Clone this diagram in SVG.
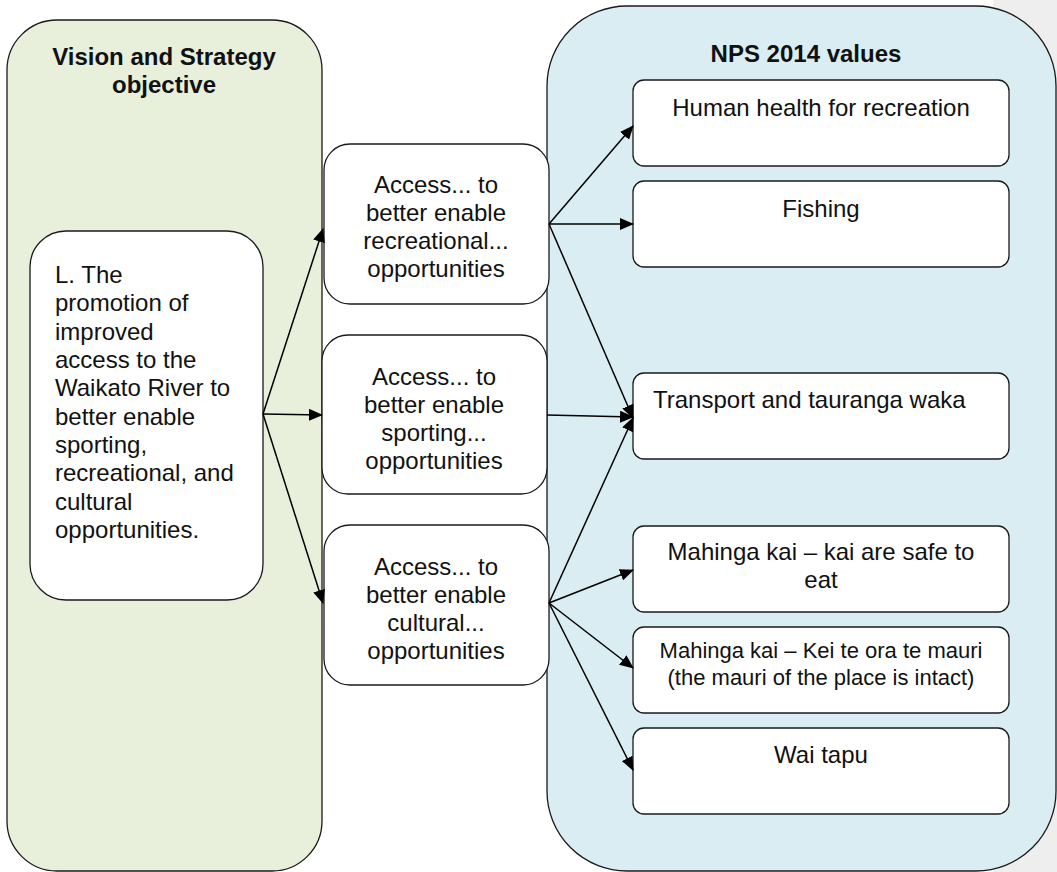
<svg xmlns="http://www.w3.org/2000/svg" width="1057" height="872" viewBox="0 0 1057 872">
  <style>
    .t { font-family: "Liberation Sans", Arial, sans-serif; font-size: 24px; fill: #111; }
    .h { font-family: "Liberation Sans", Arial, sans-serif; font-size: 24px; font-weight: bold; fill: #111; }
    .c { text-anchor: middle; }
    .box { fill: #ffffff; stroke: #1a1a1a; stroke-width: 1.3; }
    .wrap { stroke: #1a1a1a; stroke-width: 1.3; }
    .edge { fill: none; stroke: #000; stroke-width: 1.5; marker-end: url(#arrow); }
  </style>
  <defs>
    <marker id="arrow" markerUnits="userSpaceOnUse" markerWidth="14" markerHeight="12" viewBox="0 0 14 12" refX="13" refY="6" orient="auto">
      <path d="M0,0 L14,6 L0,12 Z" fill="#000"/>
    </marker>
  </defs>

  <!-- page background -->
  <rect x="0" y="0" width="1057" height="872" fill="#ffffff"/>
  <rect x="993" y="0" width="64" height="872" fill="#eeeeee"/>

  <!-- left column -->
  <g id="vision-strategy">
    <rect class="wrap" x="7" y="20" width="315" height="851" rx="50" ry="50" fill="#e8f0dc"/>
    <text class="h c" x="164" y="65">Vision and Strategy</text>
    <text class="h c" x="164" y="93">objective</text>
  </g>

  <g id="objective-L">
    <rect class="box" x="30" y="231" width="233" height="369" rx="36" ry="36"/>
    <text class="t" x="55" y="283">L. The</text>
    <text class="t" x="55" y="311">promotion of</text>
    <text class="t" x="55" y="340">improved</text>
    <text class="t" x="55" y="368">access to the</text>
    <text class="t" x="55" y="396">Waikato River to</text>
    <text class="t" x="55" y="425">better enable</text>
    <text class="t" x="55" y="453">sporting,</text>
    <text class="t" x="55" y="481">recreational, and</text>
    <text class="t" x="55" y="510">cultural</text>
    <text class="t" x="55" y="538">opportunities.</text>
  </g>

  <!-- right column -->
  <g id="nps-values">
    <rect class="wrap" x="547" y="6" width="509" height="865" rx="80" ry="80" fill="#daedf2"/>
    <text class="h c" x="806" y="62">NPS 2014 values</text>
  </g>

  <!-- middle column -->
  <g id="access-recreational">
    <rect class="box" x="324" y="144" width="225" height="160" rx="26" ry="26"/>
    <text class="t c" x="436" y="193">Access... to</text>
    <text class="t c" x="436" y="221">better enable</text>
    <text class="t c" x="436" y="249">recreational...</text>
    <text class="t c" x="436" y="277">opportunities</text>
  </g>

  <g id="access-sporting">
    <rect class="box" x="322" y="335" width="225" height="159" rx="26" ry="26"/>
    <text class="t c" x="434" y="385">Access... to</text>
    <text class="t c" x="434" y="413">better enable</text>
    <text class="t c" x="434" y="441">sporting...</text>
    <text class="t c" x="434" y="469">opportunities</text>
  </g>

  <g id="access-cultural">
    <rect class="box" x="324" y="525" width="225" height="160" rx="26" ry="26"/>
    <text class="t c" x="436" y="575">Access... to</text>
    <text class="t c" x="436" y="603">better enable</text>
    <text class="t c" x="436" y="631">cultural...</text>
    <text class="t c" x="436" y="659">opportunities</text>
  </g>

  <!-- value boxes -->
  <g id="value-health">
    <rect class="box" x="633" y="80" width="376" height="86" rx="11" ry="11"/>
    <text class="t c" x="821" y="116">Human health for recreation</text>
  </g>

  <g id="value-fishing">
    <rect class="box" x="633" y="181" width="376" height="86" rx="11" ry="11"/>
    <text class="t c" x="821" y="217">Fishing</text>
  </g>

  <g id="value-transport">
    <rect class="box" x="633" y="373" width="376" height="86" rx="11" ry="11"/>
    <text class="t" x="653" y="408">Transport and tauranga waka</text>
  </g>

  <g id="value-mahinga-safe">
    <rect class="box" x="633" y="526" width="376" height="86" rx="11" ry="11"/>
    <text class="t c" x="821" y="560">Mahinga kai – kai are safe to</text>
    <text class="t c" x="821" y="588">eat</text>
  </g>

  <g id="value-mahinga-mauri">
    <rect class="box" x="633" y="627" width="376" height="86" rx="11" ry="11"/>
    <text class="t c" x="821" y="658" style="font-size:22px">Mahinga kai – Kei te ora te mauri</text>
    <text class="t c" x="821" y="685" style="font-size:22px">(the mauri of the place is intact)</text>
  </g>

  <g id="value-wai-tapu">
    <rect class="box" x="633" y="728" width="376" height="86" rx="11" ry="11"/>
    <text class="t c" x="821" y="763">Wai tapu</text>
  </g>

  <!-- connectors -->
  <g id="connectors">
    <line class="edge" x1="263" y1="414" x2="323" y2="229"/>
    <line class="edge" x1="263" y1="414" x2="322" y2="415"/>
    <line class="edge" x1="263" y1="414" x2="323" y2="603"/>
    <line class="edge" x1="549" y1="224" x2="633" y2="126"/>
    <line class="edge" x1="549" y1="224" x2="633" y2="224"/>
    <line class="edge" x1="549" y1="224" x2="633" y2="418"/>
    <line class="edge" x1="547" y1="415" x2="633" y2="417"/>
    <line class="edge" x1="549" y1="603" x2="633" y2="418"/>
    <line class="edge" x1="549" y1="603" x2="633" y2="570"/>
    <line class="edge" x1="549" y1="603" x2="633" y2="668"/>
    <line class="edge" x1="549" y1="603" x2="633" y2="770"/>
  </g>
</svg>
